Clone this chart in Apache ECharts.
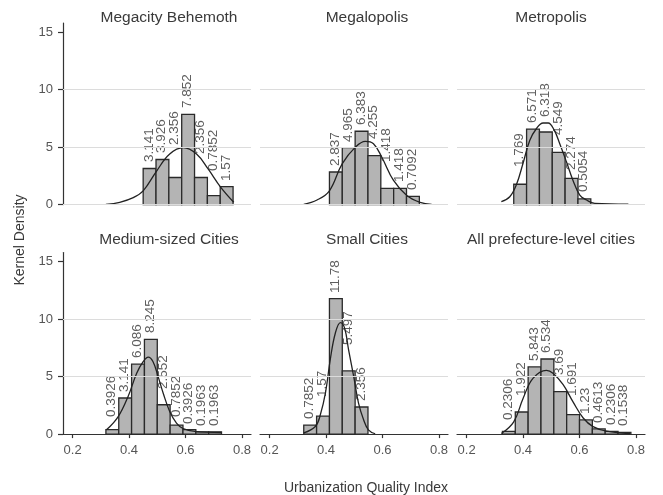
<!DOCTYPE html>
<html>
<head>
<meta charset="utf-8">
<script src="https://cdn.jsdelivr.net/npm/echarts@6/dist/echarts.min.js"></script>
<style>
  html, body { margin: 0; padding: 0; background: #fff; }
  #chart { width: 663px; height: 495px; }
</style>
</head>
<body>
<div id="chart"></div>
<script>
// Panel titles (row by row)
const panelTitles = ['Megacity Behemoth', 'Megalopolis', 'Metropolis',
                     'Medium-sized Cities', 'Small Cities', 'All prefecture-level cities'];

// Histogram bins: common width, first edge per panel
const binWidth = 0.0455;
const binStarts = [0.45, 0.412, 0.367, 0.318, 0.321, 0.327];

// Histogram densities per panel
const megacityBars   = [3.141, 3.926, 2.356, 7.852, 2.356, 0.7852, 1.57];
const megalopolisBars = [2.837, 4.965, 6.383, 4.255, 1.418, 1.418, 0.7092];
const metropolisBars = [1.769, 6.571, 6.318, 4.549, 2.274, 0.5054];
const mediumBars     = [0.3926, 3.141, 6.086, 8.245, 2.552, 0.7852, 0.3926, 0.1963, 0.1963];
const smallBars      = [0.7852, 1.57, 11.78, 5.497, 2.356];
const allCityBars    = [0.2306, 1.922, 5.843, 6.534, 3.69, 1.691, 1.23, 0.4613, 0.2306, 0.1538];

// Density curves per panel: [index, density]
const megacityCurve = [[0.318,0.02],[0.367,0.2],[0.415,0.6],[0.45,1.2],[0.497,2.9],[0.544,4.4],
  [0.592,4.95],[0.639,4.4],[0.68,3.1],[0.725,1.5],[0.771,0.2]];
const megalopolisCurve = [[0.321,0.02],[0.368,0.4],[0.412,1.2],[0.457,3.55],[0.504,5.0],[0.539,5.5],
  [0.568,5.3],[0.598,4.1],[0.639,2.1],[0.686,0.8],[0.733,0.2],[0.774,0.02]];
const metropolisCurve = [[0.323,0.25],[0.353,0.68],[0.376,1.7],[0.4,3.6],[0.424,5.6],[0.447,6.6],
  [0.471,7.1],[0.489,7.1],[0.51,6.5],[0.53,5.3],[0.554,3.7],[0.577,2.1],[0.601,0.83],[0.625,0.4],
  [0.654,0.1],[0.773,0.04]];
const mediumCurve = [[0.32,0.37],[0.361,1.5],[0.397,3.3],[0.427,5.3],[0.45,6.3],[0.468,6.7],
  [0.485,6.3],[0.503,5.0],[0.521,3.55],[0.544,1.97],[0.568,0.96],[0.591,0.49],[0.633,0.23],[0.727,0.14]];
const smallCurve = [[0.321,0.1],[0.362,0.66],[0.38,1.7],[0.398,3.6],[0.415,6.5],[0.433,8.8],
  [0.451,9.7],[0.466,9.2],[0.48,7.3],[0.498,5.0],[0.515,2.7],[0.533,1.25],[0.55,0.37],[0.574,0.03]];
const allCityCurve = [[0.323,0.05],[0.367,1.07],[0.4,3.1],[0.435,4.85],[0.483,5.55],[0.506,5.3],
  [0.542,4.3],[0.577,2.8],[0.613,1.4],[0.648,0.65],[0.696,0.25],[0.779,0.03]];

// Axis ticks
const xTicks = [0.2, 0.4, 0.6, 0.8];
const yTicks = [0, 5, 10, 15];

const panelBars = [megacityBars, megalopolisBars, metropolisBars, mediumBars, smallBars, allCityBars];
const panelCurves = [megacityCurve, megalopolisCurve, metropolisCurve, mediumCurve, smallCurve, allCityCurve];

// ---- layout ----
const X_MIN = 0.166, X_MAX = 0.832, Y_MAX = 15.8;
const colLeft = [63, 260, 457];
const plotW = 188;
const rowTop = [23, 252.5];
const plotH = 181.6;
const titleX = [169, 367, 551];
const titleY = [18, 240];
const FONT = '"Liberation Sans", Arial, sans-serif';

// density of the curve at x (for placing value labels above bar or curve)
function curveAt(curve, x) {
  if (x <= curve[0][0] || x >= curve[curve.length - 1][0]) return 0;
  for (let i = 1; i < curve.length; i++) {
    if (x <= curve[i][0]) {
      const a = curve[i - 1], b = curve[i];
      return a[1] + (b[1] - a[1]) * (x - a[0]) / (b[0] - a[0]);
    }
  }
  return 0;
}

const grids = [], xAxes = [], yAxes = [], series = [], graphics = [];

for (let p = 0; p < 6; p++) {
  const row = Math.floor(p / 3), col = p % 3;
  grids.push({ left: colLeft[col], top: rowTop[row], width: plotW, height: plotH,
               containLabel: false });

  const bottomRow = row === 1;
  xAxes.push({
    gridIndex: p, type: 'value', min: X_MIN, max: X_MAX,
    show: bottomRow,
    axisLine: { show: true, onZero: false, lineStyle: { color: '#333', width: 1.2 } },
    axisTick: { show: true, length: 4, customValues: xTicks, lineStyle: { color: '#333', width: 1.2 } },
    axisLabel: { show: true, customValues: xTicks, margin: 10, color: '#555', fontSize: 13, fontFamily: FONT,
                 formatter: v => v.toFixed(1) },
    splitLine: { show: false }
  });
  yAxes.push({
    gridIndex: p, type: 'value', min: 0, max: Y_MAX,
    show: col === 0,
    axisLine: { show: true, lineStyle: { color: '#333', width: 1.2 } },
    axisTick: { show: true, length: 5, customValues: yTicks, lineStyle: { color: '#333', width: 1.2 } },
    axisLabel: { show: true, customValues: yTicks, margin: 10, color: '#555', fontSize: 13, fontFamily: FONT },
    splitLine: { show: false }
  });

  // reference lines behind the bars
  const gl = bottomRow ? [{ yAxis: 5 }, { yAxis: 10 }] : [{ yAxis: 0 }, { yAxis: 5 }, { yAxis: 10 }];
  series.push({
    type: 'line', xAxisIndex: p, yAxisIndex: p, z: 1,
    data: [[X_MIN, 0]], symbol: 'none', lineStyle: { width: 0, opacity: 0 }, silent: true,
    markLine: {
      silent: true, symbol: ['none', 'none'], label: { show: false },
      lineStyle: { color: '#dcdcdc', width: 1, type: 'solid' },
      data: gl
    }
  });

  // histogram bars with value labels
  const bars = panelBars[p];
  const curve = panelCurves[p];
  const binData = bars.map((v, i) => {
    const x0 = binStarts[p] + i * binWidth;
    return [x0, x0 + binWidth, v];
  });
  series.push({
    type: 'custom', xAxisIndex: p, yAxisIndex: p, z: 2,
    encode: { x: [0, 1], y: 2 },
    data: binData,
    renderItem: (params, api) => {
      const x0 = api.value(0), x1 = api.value(1), h = api.value(2);
      const a = api.coord([x0, 0]);
      const b = api.coord([x1, h]);
      const mid = (x0 + x1) / 2;
      const ref = Math.max(h, curveAt(curve, mid));
      const lp = api.coord([mid, ref]);
      return {
        type: 'group',
        children: [
          { type: 'rect',
            shape: { x: a[0], y: b[1], width: b[0] - a[0], height: a[1] - b[1] },
            style: { fill: '#b4b4b4', stroke: '#2a2a2a', lineWidth: 1.3 } },
          { type: 'text', x: Math.round(lp[0] - 1), y: Math.round(lp[1] - 6), rotation: Math.PI / 2, z2: 10,
            style: { text: String(h), fill: '#5e5e5e', fontSize: 13.5, fontFamily: FONT,
                     align: 'left', verticalAlign: 'middle' } }
        ]
      };
    }
  });

  // density curve
  series.push({
    type: 'line', xAxisIndex: p, yAxisIndex: p, z: 3,
    data: curve, smooth: 0.4, symbol: 'none',
    lineStyle: { color: '#222', width: 1.3 }
  });

  graphics.push({
    type: 'text', x: titleX[col], y: titleY[row],
    style: { text: panelTitles[p], fill: '#3a3a3a', fontSize: 15.5, fontFamily: FONT,
             align: 'center', verticalAlign: 'middle' }
  });
}

graphics.push({
  type: 'text', x: 20, y: 240, rotation: Math.PI / 2,
  style: { text: 'Kernel Density', fill: '#3a3a3a', fontSize: 14, fontFamily: FONT,
           align: 'center', verticalAlign: 'middle' }
});
graphics.push({
  type: 'text', x: 366, y: 488,
  style: { text: 'Urbanization Quality Index', fill: '#3a3a3a', fontSize: 14, fontFamily: FONT,
           align: 'center', verticalAlign: 'middle' }
});

const chart = echarts.init(document.getElementById('chart'), null, { renderer: 'canvas' });
chart.setOption({
  backgroundColor: '#fff',
  animation: false,
  grid: grids,
  xAxis: xAxes,
  yAxis: yAxes,
  series: series,
  graphic: graphics
});
</script>
</body>
</html>
